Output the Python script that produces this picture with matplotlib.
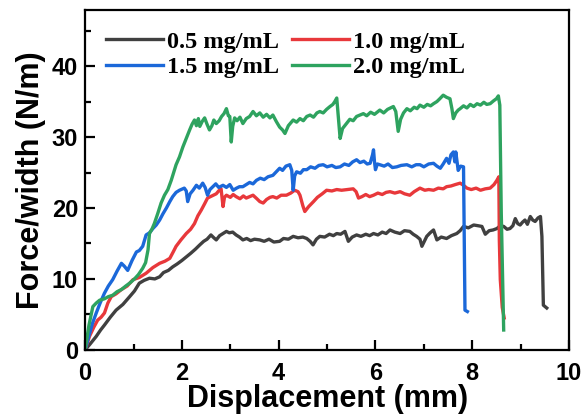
import numpy as np
import matplotlib
matplotlib.use('Agg')
import matplotlib.pyplot as plt
from matplotlib.ticker import MultipleLocator
from matplotlib.font_manager import FontProperties

# peel test curves, (displacement mm, force/width N/m)
labels = ['0.5 mg/mL', '1.0 mg/mL', '1.5 mg/mL', '2.0 mg/mL']
colors = ['#404040', '#e8383b', '#1b68d9', '#2ea35f']

pts05 = np.array([
    (0, 0), (0.10, 0.8), (0.23, 1.9), (0.32, 2.8), (0.40, 3.5), (0.52, 4.6), (0.64, 5.6),
    (0.78, 6.4), (0.92, 7.5), (1.02, 8.3), (1.12, 9.4), (1.22, 9.8), (1.33, 10.1),
    (1.44, 10.0), (1.54, 10.3), (1.62, 10.9), (1.72, 11.2), (1.81, 11.7), (1.90, 12.1),
    (2.00, 12.6), (2.09, 13.1), (2.18, 13.6), (2.28, 14.2), (2.37, 14.8), (2.45, 15.3),
    (2.52, 15.6), (2.60, 16.2), (2.66, 15.8), (2.71, 15.5), (2.78, 16.1), (2.85, 16.4),
    (2.92, 16.7), (2.98, 16.5), (3.05, 16.6), (3.12, 16.2), (3.19, 15.9), (3.26, 15.5),
    (3.34, 15.7), (3.42, 15.4), (3.50, 15.6), (3.61, 15.5), (3.70, 15.3), (3.80, 15.6),
    (3.90, 15.2), (4.02, 15.3), (4.10, 15.7), (4.20, 15.6), (4.30, 16.0), (4.40, 15.8),
    (4.50, 15.9), (4.58, 15.7), (4.65, 15.3), (4.71, 14.8), (4.78, 15.6), (4.85, 16.0),
    (4.95, 15.9), (5.05, 16.3), (5.13, 16.1), (5.20, 16.4), (5.28, 16.3), (5.37, 16.7),
    (5.44, 15.3), (5.52, 15.9), (5.61, 16.2), (5.70, 16.0), (5.80, 16.3), (5.88, 16.1),
    (5.96, 16.4), (6.05, 16.2), (6.14, 16.6), (6.22, 16.4), (6.30, 16.9), (6.40, 16.6),
    (6.51, 16.4), (6.60, 16.8), (6.71, 16.7), (6.78, 16.3), (6.85, 16.0), (6.92, 15.6),
    (6.96, 14.6), (7.01, 15.3), (7.06, 16.0), (7.13, 16.5), (7.20, 16.9), (7.27, 15.5),
    (7.36, 15.9), (7.47, 15.7), (7.57, 16.1), (7.68, 16.4), (7.75, 16.8), (7.82, 17.4),
    (7.92, 17.2), (8.03, 17.6), (8.12, 17.5), (8.20, 17.4), (8.27, 16.3), (8.35, 16.8),
    (8.43, 16.9), (8.51, 17.1), (8.58, 17.5), (8.65, 17.4), (8.72, 17.0), (8.78, 17.1),
    (8.84, 17.5), (8.89, 18.5), (8.94, 17.8), (8.99, 17.6), (9.04, 18.0), (9.09, 18.3),
    (9.14, 17.7), (9.20, 18.8), (9.25, 18.3), (9.30, 18.1), (9.36, 18.6), (9.41, 18.8),
    (9.44, 16.0), (9.47, 6.3), (9.54, 5.9)])

pts10 = np.array([
    (0, 0), (0.09, 1.9), (0.18, 3.2), (0.26, 4.2), (0.33, 4.6), (0.40, 5.2), (0.47, 6.6),
    (0.54, 7.5), (0.64, 7.9), (0.75, 8.5), (0.87, 9.0), (0.99, 9.9), (1.12, 10.2),
    (1.26, 10.8), (1.40, 11.6), (1.54, 12.2), (1.65, 12.5), (1.75, 12.9), (1.82, 13.8),
    (1.88, 14.6), (1.98, 15.5), (2.09, 16.4), (2.18, 17.0), (2.26, 17.8), (2.33, 18.9),
    (2.40, 19.7), (2.47, 20.6), (2.53, 21.4), (2.62, 21.7), (2.71, 22.0), (2.76, 22.4),
    (2.81, 22.7), (2.85, 20.2), (2.88, 21.5), (2.92, 21.8), (3.00, 21.5), (3.06, 21.9),
    (3.12, 21.6), (3.20, 21.3), (3.27, 21.7), (3.33, 21.4), (3.40, 21.6), (3.47, 21.8),
    (3.55, 21.3), (3.61, 20.9), (3.68, 20.7), (3.75, 21.2), (3.82, 21.5), (3.88, 21.6),
    (3.96, 21.4), (4.05, 21.8), (4.16, 21.8), (4.25, 22.1), (4.33, 22.5), (4.40, 22.3),
    (4.44, 21.8), (4.50, 20.3), (4.54, 19.5), (4.62, 20.2), (4.72, 20.9), (4.80, 21.5),
    (4.90, 22.0), (4.99, 22.5), (5.10, 22.4), (5.20, 22.6), (5.30, 22.5), (5.42, 22.6),
    (5.54, 22.7), (5.60, 22.3), (5.65, 21.4), (5.72, 21.6), (5.80, 21.9), (5.88, 21.6),
    (5.96, 21.8), (6.05, 22.1), (6.14, 21.9), (6.22, 22.2), (6.30, 22.3), (6.40, 22.1),
    (6.51, 22.3), (6.60, 22.0), (6.71, 21.8), (6.80, 22.3), (6.92, 22.8), (7.02, 22.5),
    (7.10, 22.6), (7.20, 22.5), (7.30, 22.8), (7.40, 22.7), (7.47, 23.0), (7.56, 23.1),
    (7.65, 23.3), (7.75, 23.5), (7.82, 23.2), (7.89, 22.8), (7.98, 22.6), (8.08, 22.8),
    (8.17, 22.5), (8.27, 22.7), (8.37, 22.8), (8.45, 23.3), (8.51, 23.9), (8.55, 24.4),
    (8.56, 15.5), (8.58, 9.9), (8.62, 6.0), (8.66, 4.5)])

pts15 = np.array([
    (0, 0), (0.08, 2.0), (0.15, 3.7), (0.23, 5.2), (0.31, 6.6), (0.40, 8.0), (0.48, 9.0),
    (0.57, 9.9), (0.66, 11.1), (0.75, 12.2), (0.81, 11.8), (0.88, 11.2), (0.97, 12.6),
    (1.06, 13.8), (1.12, 14.0), (1.19, 14.6), (1.26, 16.2), (1.33, 16.5), (1.40, 17.1),
    (1.47, 17.6), (1.54, 18.3), (1.61, 19.2), (1.68, 20.0), (1.75, 20.9), (1.81, 21.6),
    (1.88, 22.2), (1.95, 22.5), (2.05, 22.8), (2.09, 22.4), (2.12, 20.9), (2.17, 22.0),
    (2.23, 22.5), (2.30, 23.2), (2.36, 22.8), (2.43, 23.5), (2.48, 22.9), (2.53, 21.8),
    (2.58, 22.6), (2.64, 23.0), (2.70, 23.4), (2.76, 22.9), (2.85, 23.2), (2.92, 22.9),
    (2.99, 23.3), (3.06, 22.5), (3.13, 22.8), (3.19, 23.0), (3.26, 23.0), (3.33, 23.3),
    (3.40, 23.6), (3.47, 23.4), (3.54, 23.9), (3.62, 24.2), (3.70, 24.0), (3.78, 24.4),
    (3.88, 24.6), (3.95, 25.1), (4.02, 25.6), (4.08, 25.3), (4.15, 25.9), (4.23, 26.1),
    (4.27, 25.3), (4.30, 22.5), (4.33, 24.5), (4.37, 25.1), (4.45, 24.9), (4.51, 25.4),
    (4.58, 25.4), (4.66, 25.8), (4.75, 25.6), (4.83, 26.0), (4.92, 26.1), (5.00, 25.8),
    (5.10, 26.0), (5.18, 25.7), (5.27, 25.8), (5.36, 26.2), (5.45, 26.0), (5.53, 26.5),
    (5.61, 26.8), (5.68, 26.4), (5.76, 26.6), (5.83, 26.2), (5.89, 26.3), (5.94, 27.5),
    (5.96, 28.2), (5.98, 26.5), (6.00, 25.4), (6.04, 26.2), (6.09, 26.1), (6.18, 25.9),
    (6.26, 26.2), (6.35, 25.7), (6.44, 25.8), (6.53, 26.0), (6.65, 26.1), (6.75, 25.8),
    (6.84, 26.1), (6.92, 26.1), (7.00, 25.8), (7.10, 26.2), (7.20, 26.3), (7.27, 25.9),
    (7.34, 25.6), (7.40, 26.2), (7.47, 27.0), (7.52, 26.3), (7.56, 27.5), (7.61, 27.9),
    (7.64, 26.5), (7.66, 27.9), (7.71, 25.3), (7.76, 25.9), (7.82, 25.8), (7.85, 5.6),
    (7.90, 5.4)])

pts20 = np.array([
    (0, 0), (0.08, 3.5), (0.16, 6.1), (0.23, 6.6), (0.30, 7.0), (0.40, 7.2), (0.48, 7.5),
    (0.57, 7.7), (0.66, 8.2), (0.75, 8.5), (0.84, 9.0), (0.92, 9.4), (1.02, 10.0),
    (1.10, 10.6), (1.19, 11.5), (1.25, 12.3), (1.30, 14.1), (1.33, 16.4), (1.38, 17.0),
    (1.43, 17.8), (1.50, 19.2), (1.57, 20.7), (1.64, 21.8), (1.71, 22.6), (1.78, 23.9),
    (1.83, 25.0), (1.88, 26.1), (1.95, 27.2), (2.02, 28.6), (2.09, 29.8), (2.16, 31.0),
    (2.21, 31.8), (2.26, 32.4), (2.30, 31.6), (2.34, 32.6), (2.37, 31.5), (2.42, 32.2),
    (2.47, 32.7), (2.52, 31.8), (2.57, 31.0), (2.62, 31.6), (2.66, 32.4), (2.71, 31.9),
    (2.77, 32.3), (2.82, 32.9), (2.87, 33.3), (2.92, 34.0), (2.96, 33.0), (2.99, 32.9),
    (3.02, 29.3), (3.05, 31.5), (3.09, 32.7), (3.14, 32.3), (3.20, 32.8), (3.26, 31.9),
    (3.33, 32.6), (3.40, 32.9), (3.47, 33.6), (3.54, 33.0), (3.61, 33.4), (3.68, 32.8),
    (3.75, 33.2), (3.82, 32.7), (3.88, 33.1), (3.95, 32.2), (4.02, 31.4), (4.08, 31.0),
    (4.13, 30.5), (4.20, 31.6), (4.30, 32.4), (4.37, 32.1), (4.44, 32.6), (4.51, 32.3),
    (4.58, 32.9), (4.65, 33.1), (4.72, 32.8), (4.79, 33.4), (4.85, 33.6), (4.92, 33.4),
    (4.99, 33.9), (5.06, 34.3), (5.12, 34.6), (5.16, 35.0), (5.20, 35.5), (5.23, 33.0),
    (5.27, 29.8), (5.32, 31.2), (5.40, 31.9), (5.47, 32.5), (5.54, 32.3), (5.61, 32.9),
    (5.68, 33.1), (5.75, 33.3), (5.82, 33.0), (5.90, 33.5), (5.98, 33.2), (6.09, 33.8),
    (6.17, 33.4), (6.25, 33.9), (6.31, 34.1), (6.37, 34.3), (6.42, 33.6), (6.47, 30.8),
    (6.52, 32.5), (6.58, 33.4), (6.65, 34.0), (6.72, 33.7), (6.80, 34.2), (6.86, 34.0),
    (6.92, 34.5), (7.00, 34.2), (7.07, 34.6), (7.14, 34.4), (7.20, 34.7), (7.27, 35.0),
    (7.33, 35.4), (7.40, 35.9), (7.47, 35.6), (7.54, 35.4), (7.58, 34.0), (7.61, 32.6),
    (7.66, 33.4), (7.71, 33.8), (7.75, 34.0), (7.82, 34.4), (7.89, 34.1), (7.96, 34.6),
    (8.03, 34.3), (8.10, 34.7), (8.17, 34.5), (8.24, 34.9), (8.30, 34.6), (8.37, 34.7),
    (8.44, 35.1), (8.50, 35.4), (8.54, 35.8), (8.57, 34.5), (8.60, 19.3), (8.65, 2.8)])

series = [pts05, pts10, pts15, pts20]

fig = plt.figure(figsize=(5.83, 4.19), dpi=100)
ax = fig.add_axes([0.146, 0.165, 0.830, 0.811])

lines = []
for p, c, lab in zip(series, colors, labels):
    ln, = ax.plot(p[:, 0], p[:, 1], color=c, lw=2.4, label=lab)
    lines.append(ln)

ax.set_xlim(0, 10)
ax.set_ylim(0, 47.9)
ax.xaxis.set_major_locator(MultipleLocator(2))
ax.xaxis.set_minor_locator(MultipleLocator(1))
ax.yaxis.set_major_locator(MultipleLocator(10))
ax.yaxis.set_minor_locator(MultipleLocator(5))
ax.tick_params(which='both', direction='in', width=1.6)
ax.tick_params(which='major', length=7, labelsize=17)
ax.tick_params(axis='x', which='major', pad=9)
ax.tick_params(axis='y', which='major', pad=5)
ax.tick_params(which='minor', length=4)
for lab in ax.get_xticklabels() + ax.get_yticklabels():
    lab.set_fontfamily('Liberation Sans')
    lab.set_fontweight('bold')
for sp in ax.spines.values():
    sp.set_linewidth(1.6)

ax.set_xlabel('Displacement (mm)', fontsize=22, fontweight='bold',
              family='Liberation Sans', labelpad=-1)
ax.set_ylabel('Force/width (N/m)', fontsize=22, fontweight='bold',
              family='Liberation Sans', labelpad=4)

# legend fills column-wise, so reorder to get 0.5/1.0 on the first row
order = [0, 2, 1, 3]
legfont = FontProperties(family='Liberation Serif', weight='bold', size=17.5)
ax.legend([lines[i] for i in order], [labels[i] for i in order], ncol=2,
          loc='upper left', bbox_to_anchor=(0.0, 1.0), frameon=False,
          prop=legfont, handlelength=2.35, columnspacing=0.55, handletextpad=0.15,
          labelspacing=0.15, borderaxespad=0.45)

fig.savefig('out.png', dpi=100)
